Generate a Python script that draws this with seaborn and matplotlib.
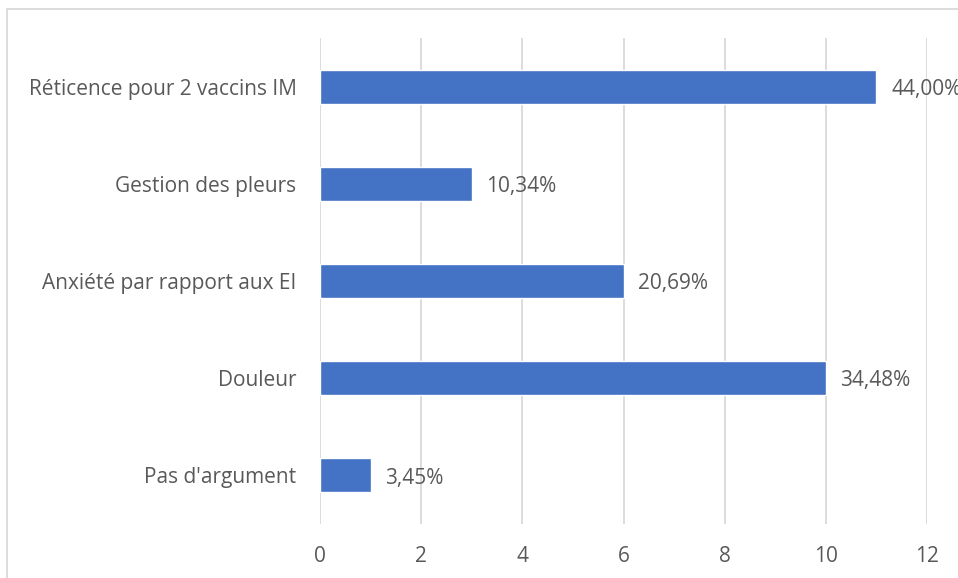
import matplotlib
matplotlib.use("Agg")
import matplotlib.pyplot as plt
import matplotlib.patches as mpatches
import pandas as pd
import seaborn as sns

categories = [
    "Réticence pour 2 vaccins IM",
    "Gestion des pleurs",
    "Anxiété par rapport aux EI",
    "Douleur",
    "Pas d'argument",
]
counts = [11, 3, 6, 10, 1]
pct_labels = ["44,00%", "10,34%", "20,69%", "34,48%", "3,45%"]
xticks = [0, 2, 4, 6, 8, 10, 12]

TEXT = "#595959"
BAR = "#4472C4"
GRID = "#D9D9D9"
FS = 15

sns.set_style("white")
plt.rcParams["font.family"] = ["Open Sans", "DejaVu Sans"]

df = pd.DataFrame({"cat": categories, "n": counts})

fig = plt.figure(figsize=(9.58, 5.78), dpi=100)
ax = fig.add_axes([320 / 958, 1 - 524 / 578, 607 / 958, 486 / 578])

sns.barplot(data=df, x="n", y="cat", color=BAR, width=0.35, saturation=1, ax=ax, zorder=3)

ax.set_xlim(0, 12)
ax.set_ylim(4.5, -0.5)
ax.set_xticks(xticks)
ax.set_xticklabels([str(t) for t in xticks])
ax.grid(axis="x", color=GRID, linewidth=1.3, zorder=0)
ax.grid(axis="y", visible=False)
for s in ax.spines.values():
    s.set_visible(False)
ax.tick_params(axis="both", length=0, colors=TEXT, labelsize=FS)
ax.tick_params(axis="y", pad=17)
ax.tick_params(axis="x", pad=16)
ax.set_xlabel("")
ax.set_ylabel("")

for i, (v, lab) in enumerate(zip(counts, pct_labels)):
    ax.annotate(lab, (v, i), xytext=(10.5, -2), textcoords="offset points",
                va="center", ha="left", color=TEXT, fontsize=FS,
                annotation_clip=False)

# chart border, running off the right and bottom edges
frame = mpatches.Rectangle((7 / 958, -0.1), 1.2, 1 - 9 / 578 + 0.1,
                           transform=fig.transFigure, fill=False,
                           edgecolor=GRID, linewidth=1.3)
fig.patches.append(frame)

fig.savefig("out.png", dpi=100, facecolor="white")
